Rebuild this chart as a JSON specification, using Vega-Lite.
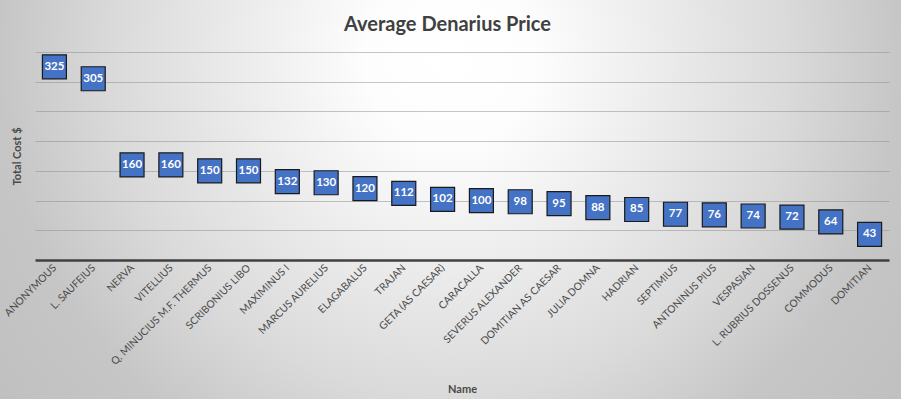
{
  "$schema": "https://vega.github.io/schema/vega-lite/v6.json",
  "width": 901,
  "height": 399,
  "autosize": {"type": "none"},
  "padding": 0,
  "background": "#c4c4c4",
  "title": {
    "text": "Average Denarius Price",
    "font": "Lato",
    "fontSize": 20,
    "fontWeight": "bold",
    "color": "#404040",
    "baseline": "alphabetic",
    "offset": -27,
    "dy": 24,
    "dx": -3
  },
  "data": {
    "values": [
      {"name": "ANONYMOUS", "cost": 325},
      {"name": "L. SAUFEIUS", "cost": 305},
      {"name": "NERVA", "cost": 160},
      {"name": "VITELLIUS", "cost": 160},
      {"name": "Q. MINUCIUS M.F. THERMUS", "cost": 150},
      {"name": "SCRIBONIUS LIBO", "cost": 150},
      {"name": "MAXIMINUS I", "cost": 132},
      {"name": "MARCUS AURELIUS", "cost": 130},
      {"name": "ELAGABALUS", "cost": 120},
      {"name": "TRAJAN", "cost": 112},
      {"name": "GETA (AS CAESAR)", "cost": 102},
      {"name": "CARACALLA", "cost": 100},
      {"name": "SEVERUS ALEXANDER", "cost": 98},
      {"name": "DOMITIAN AS CAESAR", "cost": 95},
      {"name": "JULIA DOMNA", "cost": 88},
      {"name": "HADRIAN", "cost": 85},
      {"name": "SEPTIMIUS", "cost": 77},
      {"name": "ANTONINUS PIUS", "cost": 76},
      {"name": "VESPASIAN", "cost": 74},
      {"name": "L. RUBRIUS DOSSENUS", "cost": 72},
      {"name": "COMMODUS", "cost": 64},
      {"name": "DOMITIAN", "cost": 43}
    ]
  },
  "encoding": {
    "x": {
      "field": "name",
      "type": "nominal",
      "sort": null,
      "title": "Name",
      "scale": {"range": [35, 889]},
      "axis": {
        "offset": -139,
        "labelAngle": -45,
        "labelAlign": "right",
        "labelBaseline": "middle",
        "labelFont": "Lato",
        "labelFontSize": 10.3,
        "labelColor": "#4a4a4a",
        "labelPadding": 6,
        "ticks": false,
        "grid": false,
        "domain": true,
        "domainColor": "#404040",
        "domainWidth": 2.5,
        "titleFont": "Lato",
        "titleFontSize": 11,
        "titleFontWeight": "bold",
        "titleColor": "#4a4a4a",
        "titlePadding": 17
      }
    },
    "y": {
      "field": "cost",
      "type": "quantitative",
      "scale": {"domain": [0, 350], "nice": false, "range": [260, 52]},
      "title": "Total Cost $",
      "axis": {
        "offset": -35,
        "values": [50, 100, 150, 200, 250, 300, 350],
        "labels": false,
        "ticks": false,
        "domain": false,
        "grid": true,
        "gridColor": "#8c8c8c",
        "gridOpacity": 0.5,
        "gridWidth": 1,
        "titleFont": "Lato",
        "titleFontSize": 11,
        "titleFontWeight": "bold",
        "titleColor": "#4a4a4a",
        "titlePadding": 13
      }
    }
  },
  "layer": [
    {
      "mark": {
        "type": "point",
        "shape": "square",
        "size": 576,
        "filled": true,
        "fill": "#4472C4",
        "stroke": "#1a1a1a",
        "strokeWidth": 1.2,
        "opacity": 1
      }
    },
    {
      "mark": {
        "type": "text",
        "color": "#ffffff",
        "font": "Lato",
        "fontWeight": "bold",
        "fontSize": 11.5
      },
      "encoding": {"text": {"field": "cost", "type": "quantitative"}}
    }
  ],
  "config": {
    "view": {
      "stroke": null,
      "fill": {
        "gradient": "radial",
        "x1": 0.5, "y1": 0.345, "r1": 0,
        "x2": 0.5, "y2": 0.345, "r2": 0.625,
        "stops": [
          {"offset": 0, "color": "#ffffff"},
          {"offset": 0.15, "color": "#fdfdfd"},
          {"offset": 0.6, "color": "#dadada"},
          {"offset": 0.8, "color": "#c6c6c6"},
          {"offset": 1, "color": "#c0c0c0"}
        ]
      }
    }
  }
}
